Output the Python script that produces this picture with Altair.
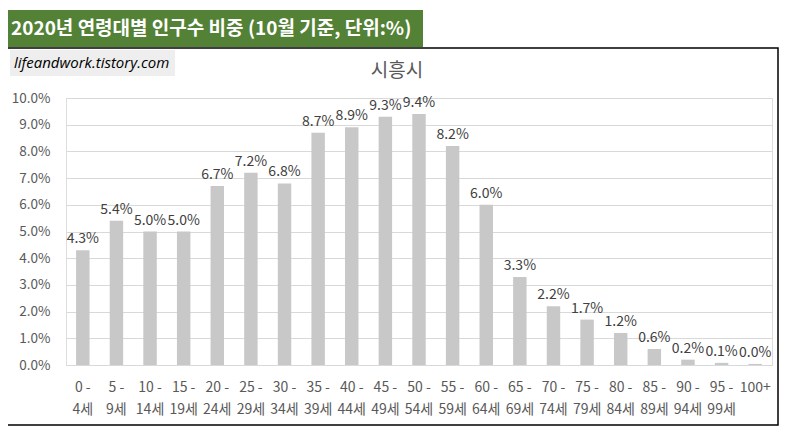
import altair as alt
import pandas as pd

lower = ["0 -", "5 -", "10 -", "15 -", "20 -", "25 -", "30 -", "35 -", "40 -", "45 -",
         "50 -", "55 -", "60 -", "65 -", "70 -", "75 -", "80 -", "85 -", "90 -", "95 -", "100+"]
upper = ["4세", "9세", "14세", "19세", "24세", "29세", "34세", "39세", "44세", "49세",
         "54세", "59세", "64세", "69세", "74세", "79세", "84세", "89세", "94세", "99세", ""]
values = [4.3, 5.4, 5.0, 5.0, 6.7, 7.2, 6.8, 8.7, 8.9, 9.3,
          9.4, 8.2, 6.0, 3.3, 2.2, 1.7, 1.2, 0.6, 0.2, 0.08, 0.04]
yticks = [0, 1, 2, 3, 4, 5, 6, 7, 8, 9, 10]

cats = [a + "\n" + b for a, b in zip(lower, upper)]
df = pd.DataFrame({"cat": cats, "v": values})
one = pd.DataFrame({"k": [0]})

FONT = "Noto Sans CJK KR"
W, H = 706, 267

x = alt.X("cat:N", sort=cats, title=None,
          scale=alt.Scale(paddingInner=0.6, paddingOuter=0.3),
          axis=alt.Axis(labelAngle=0, ticks=False, domain=False, labelPadding=15,
                        labelFontSize=14, labelColor="#595959", labelFont=FONT,
                        labelLineHeight=22, labelOverlap=False,
                        labelExpr="split(datum.value, '\\n')"))
y = alt.Y("v:Q", title=None,
          scale=alt.Scale(domain=[0, 10], nice=False),
          axis=alt.Axis(values=yticks, format=".1f", labelExpr="datum.label + '%'",
                        ticks=False, domain=False, labelPadding=16, labelFontSize=13.5,
                        labelColor="#595959", labelFont=FONT, labelOverlap=False,
                        gridColor="#d9d9d9", gridWidth=1))

bars = alt.Chart(df).mark_bar(color="#c8c8c8").encode(x=x, y=y)
labels = alt.Chart(df).transform_calculate(
    t="format(datum.v, '.1f') + '%'"
).mark_text(dy=-11, fontSize=14, color="#404040", font=FONT).encode(
    x=x, y=y, text="t:N")

# decorations (frame, title band, watermark, subtitle)
frame = alt.Chart(one).mark_rect(fill="transparent", stroke="black", strokeWidth=1.5).encode(
    x=alt.value(-59), x2=alt.value(712), y=alt.value(-50), y2=alt.value(327))
band = alt.Chart(one).mark_rect(fill="#538135").encode(
    x=alt.value(-59), x2=alt.value(357), y=alt.value(-88), y2=alt.value(-51))
band_text = alt.Chart(one).mark_text(text="2020년 연령대별 인구수 비중 (10월 기준, 단위:%)",
                                     align="left", baseline="middle", font=FONT,
                                     fontWeight="bold", fontSize=19, color="white").encode(
    x=alt.value(-55), y=alt.value(-69))
wm = alt.Chart(one).mark_rect(fill="#eeeeee").encode(
    x=alt.value(-56), x2=alt.value(109), y=alt.value(-48), y2=alt.value(-22))
wm_text = alt.Chart(one).mark_text(text="lifeandwork.tistory.com", align="left", baseline="middle",
                                   font="Open Sans", fontStyle="italic", fontSize=15,
                                   color="black").encode(
    x=alt.value(-52), y=alt.value(-35))
sub = alt.Chart(one).mark_text(text="시흥시", align="center", baseline="middle", font=FONT,
                               fontSize=19, color="#595959").encode(
    x=alt.value(331), y=alt.value(-27))

chart = alt.layer(frame, band, band_text, wm, wm_text, sub, bars, labels).properties(
    width=W, height=H,
    autosize=alt.AutoSizeParams(type="none"),
    padding={"left": 58, "top": 90, "right": 10, "bottom": 70},
).configure_view(stroke=None).configure(background="white")

chart.save("out.html", embed_options={"renderer": "svg", "actions": False})
